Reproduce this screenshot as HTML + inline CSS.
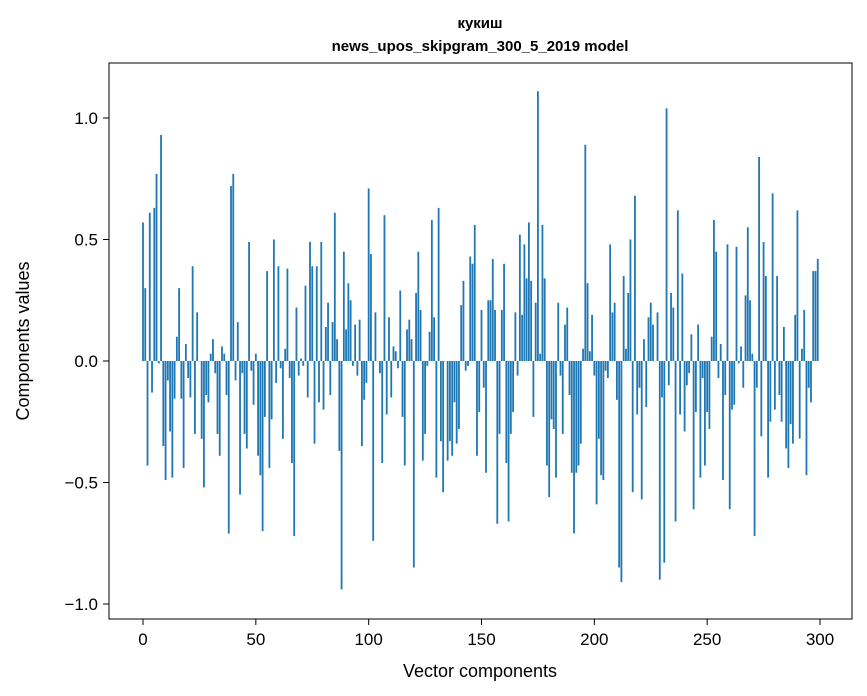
<!DOCTYPE html>
<html><head><meta charset="utf-8"><style>
body{margin:0;background:#fff;}
svg{display:block;font-family:"Liberation Sans","DejaVu Sans",sans-serif;}
</style></head><body>
<svg id="chart" width="867" height="696">
<text x="480" y="28" text-anchor="middle" font-size="15" font-weight="bold">кукиш</text>
<text x="480" y="51" text-anchor="middle" font-size="15" font-weight="bold">news_upos_skipgram_300_5_2019 model</text>
<g id="bars"></g>
<rect x="109" y="63" width="743" height="556" fill="none" stroke="#000" stroke-width="1"/>
<g id="xticks"></g>
<g id="yticks"></g>
<text x="480" y="677" text-anchor="middle" font-size="18">Vector components</text>
<text transform="translate(29,341) rotate(-90)" text-anchor="middle" font-size="18">Components values</text>
</svg>
<script>
const values = [0.57,0.30,-0.43,0.61,-0.13,0.63,0.77,-0.01,0.93,-0.35,
-0.49,-0.08,-0.29,-0.48,-0.155,0.10,0.30,-0.155,-0.44,0.07,
-0.07,-0.15,0.39,-0.30,0.20,0.0,-0.32,-0.52,-0.14,-0.17,
0.03,0.09,-0.05,-0.30,-0.39,0.06,0.03,-0.14,-0.71,0.72,
0.77,-0.08,0.16,-0.55,-0.05,-0.30,-0.36,0.49,-0.04,-0.18,
0.03,-0.39,-0.47,-0.70,-0.23,0.37,-0.44,-0.24,0.50,-0.09,
0.39,-0.03,-0.32,0.05,0.38,-0.07,-0.42,-0.72,0.22,-0.06,
0.01,-0.02,0.31,-0.15,0.49,0.39,-0.34,0.39,-0.17,0.49,
-0.20,0.14,0.24,-0.14,0.16,0.61,0.09,-0.37,-0.94,0.45,
0.13,0.32,0.25,-0.02,0.15,-0.06,0.17,-0.35,-0.16,-0.09,
0.71,0.44,-0.74,0.20,0.0,-0.05,-0.42,0.60,-0.22,0.18,
-0.15,0.06,0.04,-0.03,0.29,-0.23,-0.43,0.13,0.17,0.09,
-0.85,0.28,0.45,0.21,-0.41,-0.30,-0.02,0.12,0.58,0.18,
-0.48,0.63,-0.33,-0.54,0.0,-0.41,-0.33,-0.39,-0.17,-0.34,
-0.28,0.23,0.33,-0.04,-0.02,0.43,0.40,0.56,-0.39,-0.21,
0.21,-0.11,-0.46,0.25,0.25,0.42,0.21,-0.67,-0.30,0.21,
0.40,-0.42,-0.66,-0.30,-0.21,0.20,-0.06,0.52,0.19,0.48,
0.34,0.57,0.33,-0.23,0.24,1.11,0.03,0.56,0.34,-0.43,
-0.56,-0.24,-0.28,-0.48,0.24,-0.06,-0.30,0.15,0.22,-0.14,
-0.46,-0.71,-0.46,-0.43,-0.34,0.05,0.89,0.32,0.04,0.19,
-0.06,-0.59,-0.32,-0.47,-0.49,-0.04,-0.07,0.48,0.20,0.24,
-0.16,-0.85,-0.91,0.35,0.05,0.28,0.50,-0.54,0.68,-0.22,
-0.11,-0.57,0.09,-0.19,0.18,0.24,0.15,0.0,0.20,-0.90,
-0.15,-0.83,1.04,-0.10,0.28,0.22,-0.66,0.62,-0.22,0.36,
-0.29,-0.10,-0.05,0.11,-0.61,-0.21,0.15,-0.48,-0.07,-0.43,
-0.21,-0.28,0.10,0.58,0.45,-0.07,0.07,-0.49,-0.14,0.48,
-0.61,-0.20,-0.18,0.47,-0.01,0.06,-0.11,0.27,0.55,0.25,
0.03,-0.72,-0.11,0.84,-0.31,0.49,0.35,-0.48,-0.25,0.69,
-0.20,0.35,-0.14,-0.25,0.14,-0.36,-0.44,-0.26,-0.34,0.19,
0.62,-0.32,0.05,0.21,-0.47,-0.11,-0.17,0.37,0.37,0.42];
const xTicks = [0,50,100,150,200,250,300];
const yTicks = [-1.0,-0.5,0.0,0.5,1.0];
const yTickLabels = ["\u22121.0","\u22120.5","0.0","0.5","1.0"];

const NS="http://www.w3.org/2000/svg";
function xs(v){return 143+v*(677/300);}
function ys(v){return 361-v*243;}
const gb=document.getElementById('bars');
values.forEach((v,i)=>{
  const r=document.createElementNS(NS,'rect');
  const w=0.8*(677/300);
  r.setAttribute('x',xs(i)-w/2);
  r.setAttribute('y',Math.min(ys(v),ys(0)));
  r.setAttribute('width',w);
  r.setAttribute('height',Math.max(Math.abs(ys(v)-ys(0)),0.3));
  r.setAttribute('fill','#1f77b4');
  
  
  gb.appendChild(r);
});
const gx=document.getElementById('xticks');
xTicks.forEach(t=>{
  const l=document.createElementNS(NS,'line');
  l.setAttribute('x1',xs(t));l.setAttribute('x2',xs(t));
  l.setAttribute('y1',619);l.setAttribute('y2',625);
  l.setAttribute('stroke','#000');
  
  
  gx.appendChild(l);
  const tx=document.createElementNS(NS,'text');
  tx.setAttribute('x',xs(t));tx.setAttribute('y',645);
  tx.setAttribute('text-anchor','middle');tx.setAttribute('font-size','17');
  tx.textContent=t;
  
  
  gx.appendChild(tx);
});
const gy=document.getElementById('yticks');
yTicks.forEach((t,i)=>{
  const l=document.createElementNS(NS,'line');
  l.setAttribute('x1',103);l.setAttribute('x2',109);
  l.setAttribute('y1',ys(t));l.setAttribute('y2',ys(t));
  l.setAttribute('stroke','#000');
  
  
  gy.appendChild(l);
  const tx=document.createElementNS(NS,'text');
  tx.setAttribute('x',98);tx.setAttribute('y',ys(t)+6);
  tx.setAttribute('text-anchor','end');tx.setAttribute('font-size','17');
  tx.textContent=yTickLabels[i];
  
  
  gy.appendChild(tx);
});
</script>
</body></html>
